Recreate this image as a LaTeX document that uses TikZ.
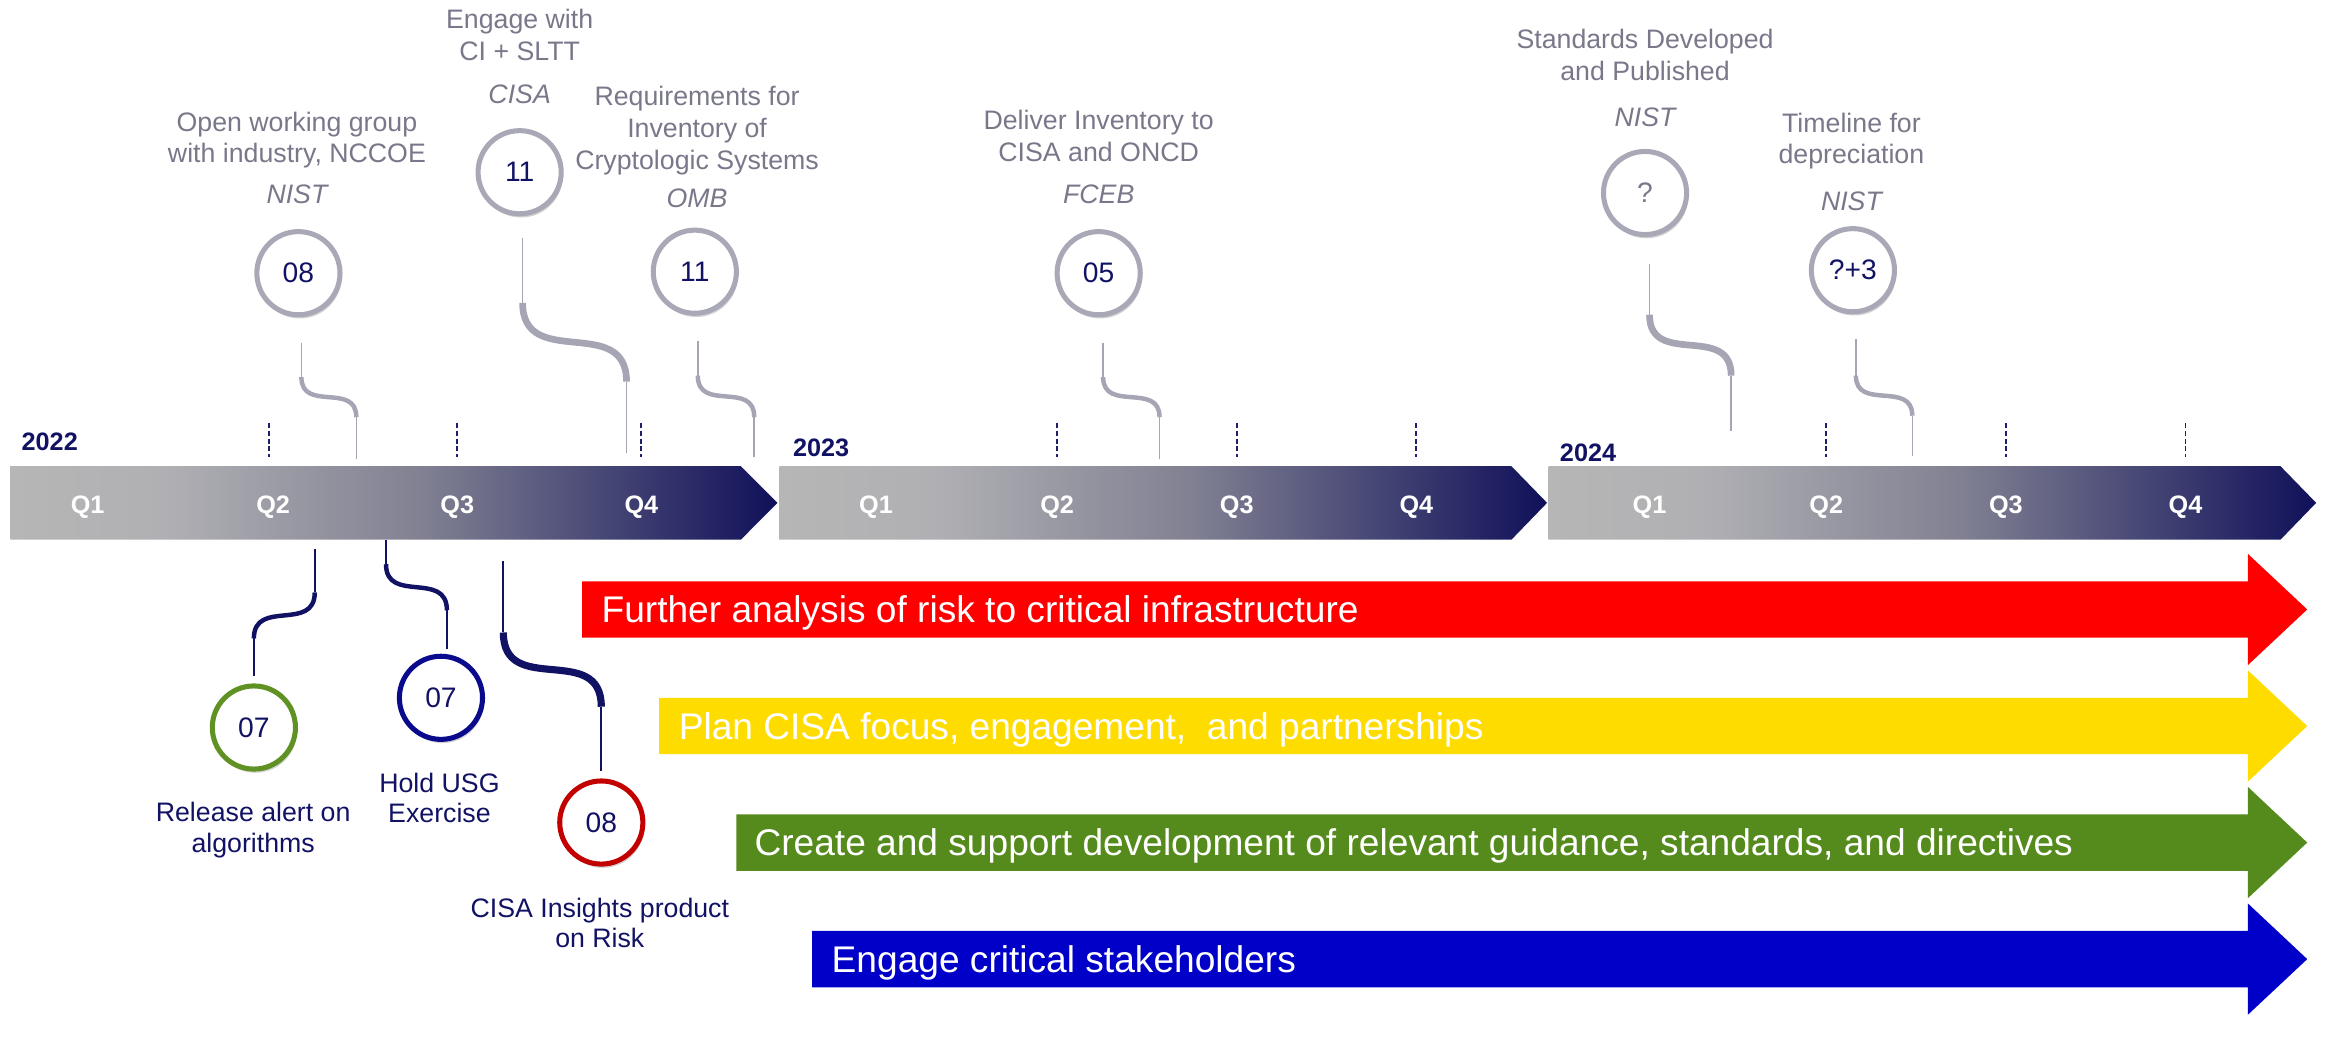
\documentclass[tikz,border=0pt]{standalone}
\usepackage{fontspec}
\setmainfont{Liberation Sans}
\usetikzlibrary{shadows}

\definecolor{navy}{RGB}{18,18,100}
\definecolor{labelgray}{RGB}{120,120,138}
\definecolor{ringgray}{RGB}{168,168,182}
\definecolor{linkgray}{RGB}{165,165,180}
\definecolor{barA}{RGB}{182,182,182}
\definecolor{barB}{RGB}{176,176,180}
\definecolor{barC}{RGB}{128,128,146}
\definecolor{barD}{RGB}{16,16,90}
\definecolor{tickblue}{RGB}{30,30,110}
\definecolor{arrRed}{RGB}{255,0,0}
\definecolor{arrYellow}{RGB}{255,220,0}
\definecolor{arrGreen}{RGB}{85,139,28}
\definecolor{arrBlue}{RGB}{0,0,200}
\definecolor{ringGreen}{RGB}{95,145,35}
\definecolor{ringBlue}{RGB}{10,10,140}
\definecolor{ringRed}{RGB}{195,0,0}

% grey-to-navy fill of the year bars
\pgfdeclarehorizontalshading{barshade}{100bp}{color(0bp)=(barA); color(25bp)=(barA); color(35bp)=(barB); color(52bp)=(barC); color(75bp)=(barD); color(100bp)=(barD)}

\tikzset{
  milestone/.style={circle, draw=ringgray, line width=3.4pt, fill=white,
    minimum size=56pt, inner sep=0pt, font=\fontsize{19}{22}\selectfont, text=navy,
    drop shadow={shadow xshift=1pt, shadow yshift=-2.5pt, opacity=0.3, fill=black!60}},
  toplbl/.style={font=\fontsize{18}{21.5}\selectfont, text=labelgray, anchor=base, inner sep=0pt},
  agency/.style={font=\fontsize{18}{21.5}\selectfont\itshape, text=labelgray, anchor=base, inner sep=0pt},
  botlbl/.style={font=\fontsize{18}{21.5}\selectfont, text=navy, anchor=base, inner sep=0pt},
  qlbl/.style={font=\fontsize{17}{20}\selectfont\bfseries, text=white, anchor=base, inner sep=0pt},
  yearlbl/.style={font=\fontsize{17}{20}\selectfont\bfseries, text=navy, anchor=base west, inner sep=0pt},
  bandlbl/.style={font=\fontsize{25}{30}\selectfont, text=white, anchor=base west, inner sep=0pt},
  qtick/.style={draw=tickblue, line width=1.3pt, dash pattern=on 3.4pt off 1.8pt},
  linkthin/.style={draw=linkgray, line width=1pt},
  linkcurve/.style={draw=linkgray, line width=3pt},
  linkheavy/.style={draw=linkgray, line width=4.5pt},
  navythin/.style={draw=navy, line width=1.2pt},
  navycurve/.style={draw=navy, line width=3pt},
  navyheavy/.style={draw=navy, line width=4.8pt},
}

\begin{document}
\begin{tikzpicture}[x=1pt, y=-1pt]
\useasboundingbox (0,0) rectangle (1568,698);

% ---- year bars ----
\shade[shading=barshade] (7,314) -- (499,314) -- (523.6,338.7) -- (499,363.5) -- (7,363.5) -- cycle;
\shade[shading=barshade] (525,314) -- (1018,314) -- (1042,338.7) -- (1018,363.5) -- (525,363.5) -- cycle;
\shade[shading=barshade] (1043,314) -- (1536,314) -- (1560,338.7) -- (1536,363.5) -- (1043,363.5) -- cycle;

\node[yearlbl] (y22) at (14.4,303.5) {2022};
\node[yearlbl] (y23) at (534,307.6) {2023};
\node[yearlbl] (y24) at (1050.5,310.5) {2024};

\node[qlbl] (q221) at (59,345.7) {Q1};
\node[qlbl] (q222) at (184,345.7) {Q2};
\node[qlbl] (q223) at (308,345.7) {Q3};
\node[qlbl] (q224) at (432,345.7) {Q4};
\node[qlbl] (q231) at (590,345.7) {Q1};
\node[qlbl] (q232) at (712,345.7) {Q2};
\node[qlbl] (q233) at (833,345.7) {Q3};
\node[qlbl] (q234) at (954,345.7) {Q4};
\node[qlbl] (q241) at (1111,345.7) {Q1};
\node[qlbl] (q242) at (1230,345.7) {Q2};
\node[qlbl] (q243) at (1351,345.7) {Q3};
\node[qlbl] (q244) at (1472,345.7) {Q4};

% quarter ticks above the bars
\foreach \x in {181,308,432,712,833,954,1230,1351,1472}
  \draw[qtick] (\x,285) -- (\x,308);

% ---- milestones above the bars ----
\node[toplbl] (t1a) at (200,88.5) {Open working group};
\node[toplbl] (t1b) at (200,109.5) {with industry, NCCOE};
\node[agency] (t1c) at (200,137) {NIST};
\node[milestone] (m1) at (201,184) {08};
\coordinate (m1a) at (203,231); \coordinate (m1b) at (203,254);
\coordinate (m1c) at (240,281); \coordinate (m1d) at (240,309);
\draw[linkthin] (m1a) -- (m1b);
\draw[linkcurve] (m1b) .. controls +(0,24) and +(0,-24) .. (m1c);
\draw[linkthin] (m1c) -- (m1d);

\node[toplbl] (t2a) at (350,19.5) {Engage with};
\node[toplbl] (t2b) at (350,41) {CI + SLTT};
\node[agency] (t2c) at (350,70) {CISA};
\node[milestone] (m2) at (350,116) {11};
\coordinate (m2a) at (352,160); \coordinate (m2b) at (352,204);
\coordinate (m2c) at (422,257); \coordinate (m2d) at (422,305);
\draw[linkthin] (m2a) -- (m2b);
\draw[linkheavy] (m2b) .. controls +(0,46) and +(0,-46) .. (m2c);
\draw[linkthin] (m2c) -- (m2d);

\node[toplbl] (t3a) at (469.5,71) {Requirements for};
\node[toplbl] (t3b) at (469.5,92.5) {Inventory of};
\node[toplbl] (t3c) at (469.5,114) {Cryptologic Systems};
\node[agency] (t3d) at (469.5,139.5) {OMB};
\node[milestone] (m3) at (468,183) {11};
\coordinate (m3a) at (470,230); \coordinate (m3b) at (470,253);
\coordinate (m3c) at (508,281); \coordinate (m3d) at (508,308);
\draw[linkthin] (m3a) -- (m3b);
\draw[linkcurve] (m3b) .. controls +(0,25) and +(0,-25) .. (m3c);
\draw[linkthin] (m3c) -- (m3d);

\node[toplbl] (t4a) at (740,87.5) {Deliver Inventory to};
\node[toplbl] (t4b) at (740,109) {CISA and ONCD};
\node[agency] (t4c) at (740,137) {FCEB};
\node[milestone] (m4) at (740,184) {05};
\coordinate (m4a) at (743,231); \coordinate (m4b) at (743,254);
\coordinate (m4c) at (781,281); \coordinate (m4d) at (781,309);
\draw[linkthin] (m4a) -- (m4b);
\draw[linkcurve] (m4b) .. controls +(0,24) and +(0,-24) .. (m4c);
\draw[linkthin] (m4c) -- (m4d);

\node[toplbl] (t5a) at (1108,32.5) {Standards Developed};
\node[toplbl] (t5b) at (1108,54) {and Published};
\node[agency] (t5c) at (1108,85.4) {NIST};
\node[milestone, text=labelgray] (m5) at (1108,130) {?};
\coordinate (m5a) at (1111,178); \coordinate (m5b) at (1111,212);
\coordinate (m5c) at (1166,253); \coordinate (m5d) at (1166,290);
\draw[linkthin] (m5a) -- (m5b);
\draw[linkheavy] (m5b) .. controls +(0,36) and +(0,-36) .. (m5c);
\draw[linkthin] (m5c) -- (m5d);

\node[toplbl] (t6a) at (1247,89) {Timeline for};
\node[toplbl] (t6b) at (1247,110) {depreciation};
\node[agency] (t6c) at (1247,142) {NIST};
\node[milestone] (m6) at (1248,182) {?+3};
\coordinate (m6a) at (1250,228); \coordinate (m6b) at (1250,253);
\coordinate (m6c) at (1288,280); \coordinate (m6d) at (1288,307);
\draw[linkthin] (m6a) -- (m6b);
\draw[linkcurve] (m6b) .. controls +(0,24) and +(0,-24) .. (m6c);
\draw[linkthin] (m6c) -- (m6d);

% ---- milestones below the bars ----
\coordinate (n1a) at (212,370); \coordinate (n1b) at (212,399);
\coordinate (n1c) at (171,430); \coordinate (n1d) at (171,455);
\draw[navythin] (n1a) -- (n1b);
\draw[navycurve] (n1b) .. controls +(0,27) and +(0,-27) .. (n1c);
\draw[navythin] (n1c) -- (n1d);
\node[milestone, draw=ringGreen] (n1) at (171,490) {07};
\node[botlbl] (u1a) at (170.5,553) {Release alert on};
\node[botlbl] (u1b) at (170.5,574) {algorithms};

\coordinate (n2a) at (260,364); \coordinate (n2b) at (260,380);
\coordinate (n2c) at (301,411); \coordinate (n2d) at (301,437);
\draw[navythin] (n2a) -- (n2b);
\draw[navycurve] (n2b) .. controls +(0,27) and +(0,-27) .. (n2c);
\draw[navythin] (n2c) -- (n2d);
\node[milestone, draw=ringBlue] (n2) at (297,470) {07};
\node[botlbl] (u2a) at (296,533.5) {Hold USG};
\node[botlbl] (u2b) at (296,554) {Exercise};

\coordinate (n3a) at (339,378); \coordinate (n3b) at (339,426);
\coordinate (n3c) at (405,476); \coordinate (n3d) at (405,519);
\draw[navythin] (n3a) -- (n3b);
\draw[navyheavy] (n3b) .. controls +(0,44) and +(0,-44) .. (n3c);
\draw[navythin] (n3c) -- (n3d);
\node[milestone, draw=ringRed] (n3) at (405,554) {08};
\node[botlbl] (u3a) at (404,617.7) {CISA Insights product};
\node[botlbl] (u3b) at (404,638.4) {on Risk};

% ---- work-stream arrows ----
\fill[arrRed] (392,391.5) -- (1514,391.5) -- (1514,373) -- (1554,410.5) -- (1514,448) -- (1514,429.5) -- (392,429.5) -- cycle;
\node[bandlbl] (s1) at (405,419.5) {Further analysis of risk to critical infrastructure};

\fill[arrYellow] (444,470) -- (1514,470) -- (1514,451.5) -- (1554,489) -- (1514,526.5) -- (1514,508) -- (444,508) -- cycle;
\node[bandlbl] (s2) at (457,498) {Plan CISA focus, engagement,\ \ and partnerships};

\fill[arrGreen] (496,548.5) -- (1514,548.5) -- (1514,530) -- (1554,567.5) -- (1514,605) -- (1514,586.5) -- (496,586.5) -- cycle;
\node[bandlbl] (s3) at (508,576.5) {Create and support development of relevant guidance, standards, and directives};

\fill[arrBlue] (547,627) -- (1514,627) -- (1514,608.5) -- (1554,646) -- (1514,683.5) -- (1514,665) -- (547,665) -- cycle;
\node[bandlbl] (s4) at (560,655) {Engage critical stakeholders};

\end{tikzpicture}
\end{document}
